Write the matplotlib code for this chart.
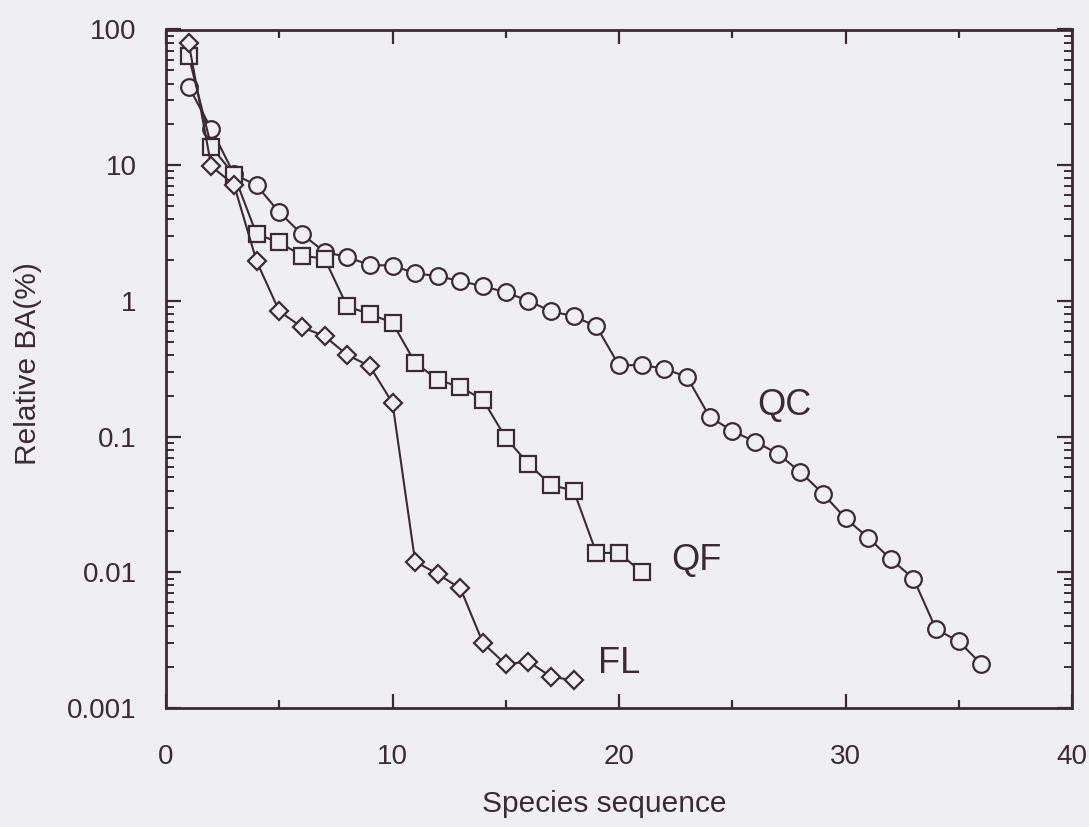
import matplotlib
matplotlib.use("Agg")
import matplotlib.pyplot as plt
from matplotlib.ticker import LogLocator, FixedLocator, NullFormatter

# ---- data ----
qc_values = [38, 18.5, 8.6, 7.1, 4.5, 3.1, 2.3, 2.1, 1.84, 1.82, 1.6, 1.52, 1.40,
             1.28, 1.16, 1.0, 0.84, 0.77, 0.65, 0.335, 0.337, 0.317, 0.275, 0.14,
             0.11, 0.092, 0.075, 0.055, 0.038, 0.025, 0.018, 0.0125, 0.0090,
             0.0038, 0.0031, 0.0021]
qf_values = [64, 13.7, 8.5, 3.1, 2.7, 2.15, 2.05, 0.91, 0.80, 0.69, 0.35, 0.262,
             0.232, 0.186, 0.098, 0.063, 0.044, 0.040, 0.0139, 0.0139, 0.0100]
fl_values = [80, 9.8, 7.2, 1.96, 0.84, 0.64, 0.55, 0.40, 0.33, 0.177, 0.012,
             0.0097, 0.0076, 0.0030, 0.0021, 0.0022, 0.0017, 0.0016]
qc_x = list(range(1, len(qc_values) + 1))
qf_x = list(range(1, len(qf_values) + 1))
fl_x = list(range(1, len(fl_values) + 1))

series_labels = ["QC", "QF", "FL"]
label_pos = [(27.3, 0.17), (23.4, 0.0122), (20.0, 0.00213)]

x_major = [0, 10, 20, 30, 40]
x_minor = [5, 15, 25, 35]
y_major = [0.001, 0.01, 0.1, 1, 10, 100]
y_ticklabels = ["0.001", "0.01", "0.1", "1", "10", "100"]

ink = "#3a2b33"
bg = "#efeff1"

plt.rcParams['font.family'] = ['Liberation Sans', 'DejaVu Sans']

fig = plt.figure(figsize=(10.89, 8.27), dpi=100, facecolor=bg)
ax = fig.add_axes([166/1089, 1 - 708/827, 906/1089, 678.5/827])
ax.set_facecolor(bg)

lw = 1.5
mew = 1.6
ax.plot(qc_x, qc_values, color=ink, lw=lw, marker='o', ms=12,
        mfc=bg, mec=ink, mew=mew, zorder=3)
ax.plot(qf_x, qf_values, color=ink, lw=lw, marker='s', ms=12,
        mfc=bg, mec=ink, mew=mew, zorder=4)
ax.plot(fl_x, fl_values, color=ink, lw=lw, marker='D', ms=9,
        mfc=bg, mec=ink, mew=mew, zorder=5)

for lab, (lx, ly) in zip(series_labels, label_pos):
    ax.text(lx, ly, lab, fontsize=26, color=ink, ha='center', va='center')

ax.set_yscale('log')
ax.set_xlim(0, 40)
ax.set_ylim(0.001, 100)

ax.xaxis.set_major_locator(FixedLocator(x_major))
ax.xaxis.set_minor_locator(FixedLocator(x_minor))
ax.set_xticklabels([str(v) for v in x_major])
ax.xaxis.set_minor_formatter(NullFormatter())

ax.yaxis.set_major_locator(FixedLocator(y_major))
ax.set_yticklabels(y_ticklabels)
ax.yaxis.set_minor_locator(LogLocator(base=10, subs=range(2, 10), numticks=20))
ax.yaxis.set_minor_formatter(NullFormatter())

ax.tick_params(which='both', direction='in', top=True, right=True, colors=ink,
               labelcolor=ink)
ax.tick_params(axis='x', which='major', length=10, width=1.6, labelsize=20, pad=26)
ax.tick_params(axis='x', which='minor', length=6, width=1.6)
ax.tick_params(axis='y', which='major', length=11, width=1.6, labelsize=20, pad=21)
ax.tick_params(axis='y', which='minor', length=6, width=1.4)

for s in ax.spines.values():
    s.set_color(ink)
    s.set_linewidth(2.0)

ax.set_xlabel("Species sequence", fontsize=21.5, color=ink)
ax.xaxis.set_label_coords(0.484, -96 / 678.5)
ax.set_ylabel("Relative BA(%)", fontsize=21.5, color=ink)
ax.yaxis.set_label_coords((28 - 166) / 906, 0.508)
ax.xaxis.label.set_va('center')
ax.yaxis.label.set_va('center')

fig.savefig("out.png", dpi=100, facecolor=bg)
